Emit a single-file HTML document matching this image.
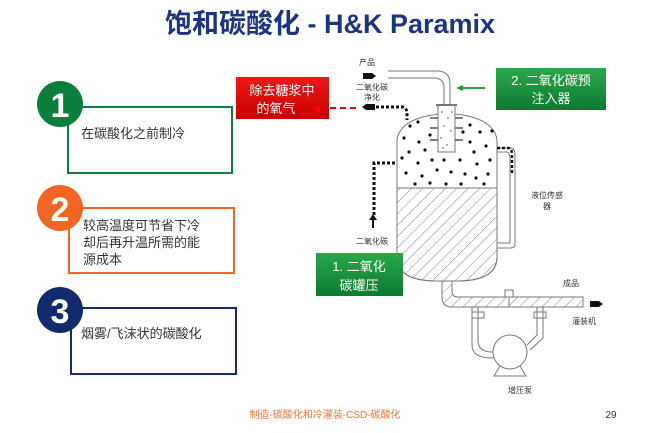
<!DOCTYPE html>
<html><head><meta charset="utf-8"><style>
body{margin:0;background:#fff;width:650px;height:433px;overflow:hidden;font-family:"Liberation Sans","Noto Sans CJK SC",sans-serif}
svg{position:absolute;left:0;top:0}
</style></head><body>
<svg width="650" height="433" viewBox="0 0 650 433" font-family="Liberation Sans, Noto Sans CJK SC, sans-serif">
<defs>
<pattern id="h" width="8" height="8" patternUnits="userSpaceOnUse" patternTransform="rotate(45)">
<line x1="0" y1="0" x2="0" y2="8" stroke="#666" stroke-width="0.8"/></pattern>
<linearGradient id="g" x1="0" y1="0" x2="0" y2="1"><stop offset="0" stop-color="#2aa84a"/><stop offset="1" stop-color="#0b7a30"/></linearGradient>
<linearGradient id="r" x1="0" y1="0" x2="0" y2="1"><stop offset="0" stop-color="#f01818"/><stop offset="1" stop-color="#c80000"/></linearGradient>
</defs>
<text x="330" y="33" text-anchor="middle" font-size="27" font-weight="bold" fill="#1c3580">饱和碳酸化 - H&amp;K Paramix</text>

<rect x="68" y="107" width="164" height="66" fill="#fff" stroke="#0a7f3c" stroke-width="2"/>
<circle cx="60" cy="104" r="23" fill="#0a7f3c"/>
<text x="60" y="117" text-anchor="middle" font-size="34" font-weight="bold" fill="#fff">1</text>
<text x="81" y="138" font-size="13" fill="#333">在碳酸化之前制冷</text>

<rect x="69" y="208" width="165" height="65" fill="#fff" stroke="#f26522" stroke-width="2"/>
<circle cx="60" cy="208" r="23" fill="#f26522"/>
<text x="60" y="221" text-anchor="middle" font-size="34" font-weight="bold" fill="#fff">2</text>
<text x="83" y="230" font-size="13" fill="#333">较高温度可节省下冷</text>
<text x="83" y="247" font-size="13" fill="#333">却后再升温所需的能</text>
<text x="83" y="264" font-size="13" fill="#333">源成本</text>

<rect x="71" y="308" width="165" height="66" fill="#fff" stroke="#142a6e" stroke-width="2"/>
<circle cx="60" cy="310" r="23" fill="#142a6e"/>
<text x="60" y="323" text-anchor="middle" font-size="34" font-weight="bold" fill="#fff">3</text>
<text x="81" y="338" font-size="13" fill="#333">烟雾/飞沫状的碳酸化</text>

<rect x="236" y="77" width="93" height="42" fill="url(#r)"/>
<text x="282" y="95" text-anchor="middle" font-size="13" fill="#fff">除去糖浆中</text>
<text x="276" y="113" text-anchor="middle" font-size="13" fill="#fff">的氧气</text>
<path d="M312 109 l8 -4 v8z" fill="#f00"/>
<line x1="330" y1="108" x2="356" y2="108" stroke="#e00" stroke-width="2" stroke-dasharray="6,4"/>

<g stroke="#777" stroke-width="1" fill="none">
<path d="M397 257 V140 Q400 118 440 114 H455 Q494 118 497 140 V257 Q497 280 460 281 H434 Q397 280 397 257Z" fill="#fff"/>
<path d="M397 188 H497 V257 Q497 280 460 281 H434 Q397 280 397 257Z" fill="url(#h)"/>
<line x1="397" y1="188" x2="497" y2="188"/>
<path d="M442 281 V297 Q442 307 452 307 H583 V297 H458 Q452 297 452 291 V281" fill="url(#h)"/>
<path d="M478 307 V340 Q478 352 492 352 H520" />
<path d="M472 307 V345 Q472 358 492 358 H510"/>
<circle cx="510" cy="352" r="17" fill="#fff"/>
<path d="M500 366 l-6 10 h32 l-6 -10"/>
<path d="M537 307 V335 L527 345"/><path d="M543 307 V338 L530 350"/>
<rect x="472" y="312" width="12" height="6"/><rect x="534" y="312" width="12" height="6"/>
<rect x="505" y="290" width="8" height="7"/><line x1="509" y1="297" x2="509" y2="307"/>
<path d="M497 148 H510 Q515 148 515 155 V245 Q515 248 510 248 H497"/>
<path d="M497 152 H506 Q510 152 510 158 V243 H497"/>
<path d="M388 71 H437 Q450 71 450 84 V105"/><path d="M388 78 H434 Q444 78 444 88 V105"/>
<rect x="438" y="105" width="17" height="47" fill="#fff"/>
<line x1="436" y1="105" x2="457" y2="105" stroke-width="2"/>
</g>
<g fill="#999"><circle cx="442" cy="112" r="1"/><circle cx="448" cy="118" r="1"/><circle cx="444" cy="126" r="1"/><circle cx="451" cy="131" r="1"/><circle cx="441" cy="138" r="1"/><circle cx="447" cy="145" r="1"/><circle cx="452" cy="112" r="1"/><circle cx="443" cy="148" r="1"/></g>
<g stroke="#555" stroke-width="1.5"><line x1="430" y1="118" x2="438" y2="118"/><line x1="455" y1="118" x2="463" y2="118"/><line x1="430" y1="128" x2="438" y2="128"/><line x1="455" y1="128" x2="463" y2="128"/><line x1="430" y1="140" x2="438" y2="140"/><line x1="455" y1="140" x2="463" y2="140"/></g>
<g fill="#111">
<circle cx="418" cy="122" r="1.6"/><circle cx="430" cy="135" r="1.6"/><circle cx="404" cy="138" r="1.6"/><circle cx="419" cy="142" r="1.6"/><circle cx="409" cy="152" r="1.6"/><circle cx="425" cy="150" r="1.6"/><circle cx="402" cy="158" r="1.6"/><circle cx="418" cy="163" r="1.6"/><circle cx="432" cy="160" r="1.6"/><circle cx="406" cy="173" r="1.6"/><circle cx="422" cy="176" r="1.6"/><circle cx="437" cy="170" r="1.6"/><circle cx="415" cy="184" r="1.6"/><circle cx="430" cy="183" r="1.6"/><circle cx="444" cy="160" r="1.6"/><circle cx="451" cy="172" r="1.6"/><circle cx="446" cy="184" r="1.6"/><circle cx="460" cy="160" r="1.6"/><circle cx="465" cy="174" r="1.6"/><circle cx="461" cy="184" r="1.6"/><circle cx="470" cy="125" r="1.6"/><circle cx="480" cy="132" r="1.6"/><circle cx="470" cy="142" r="1.6"/><circle cx="486" cy="146" r="1.6"/><circle cx="474" cy="152" r="1.6"/><circle cx="490" cy="160" r="1.6"/><circle cx="477" cy="164" r="1.6"/><circle cx="488" cy="174" r="1.6"/><circle cx="476" cy="178" r="1.6"/><circle cx="484" cy="184" r="1.6"/><circle cx="492" cy="131" r="1.6"/><circle cx="463" cy="132" r="1.6"/><circle cx="410" cy="126" r="1.6"/></g>
<g fill="none" stroke="#111" stroke-width="3" stroke-dasharray="3,2">
<path d="M376 107 H402 Q407 107 407 114 V120"/>
<path d="M395 163 H374 V215"/>
<path d="M497 148 H508 Q512 148 512 155 V175" stroke-width="2.5"/>
</g>
<path d="M363 73 h9 l4 3 l-4 3 h-9z" fill="#111"/>
<path d="M375 104 h-9 l-4 3 l4 3 h9z" fill="#111"/>
<path d="M372 228 v-8 h-3 l4 -6 l4 6 h-3 v8z" fill="#111"/>
<path d="M590 301 h9 l4 3 l-4 3 h-9z" fill="#111"/>
<line x1="485" y1="88" x2="460" y2="88" stroke="#2a9a40" stroke-width="2"/><path d="M456 88 l7 -3 v6z" fill="#2a9a40"/>
<rect x="496" y="68" width="110" height="42" fill="url(#g)"/>
<text x="551" y="85" text-anchor="middle" font-size="13" fill="#fff">2. 二氧化碳预</text>
<text x="551" y="103" text-anchor="middle" font-size="13" fill="#fff">注入器</text>
<rect x="316" y="253" width="87" height="43" fill="url(#g)"/>
<text x="359" y="271" text-anchor="middle" font-size="13" fill="#fff">1. 二氧化</text>
<text x="359" y="290" text-anchor="middle" font-size="13" fill="#fff">碳罐压</text>
<g font-size="8" fill="#333" text-anchor="middle">
<text x="367" y="65">产品</text>
<text x="372" y="90">二氧化碳</text><text x="372" y="100">净化</text>
<text x="372" y="244">二氧化碳</text>
<text x="547" y="198">液位传感</text><text x="547" y="209">器</text>
<text x="571" y="286">成品</text>
<text x="584" y="324">灌装机</text>
<text x="520" y="393">增压泵</text>
</g>
<text x="325" y="418" text-anchor="middle" font-size="10" fill="#f07830">制造-碳酸化和冷灌装-CSD-碳酸化</text>
<text x="611" y="418" text-anchor="middle" font-size="10" fill="#333">29</text>
</svg>
</body></html>
